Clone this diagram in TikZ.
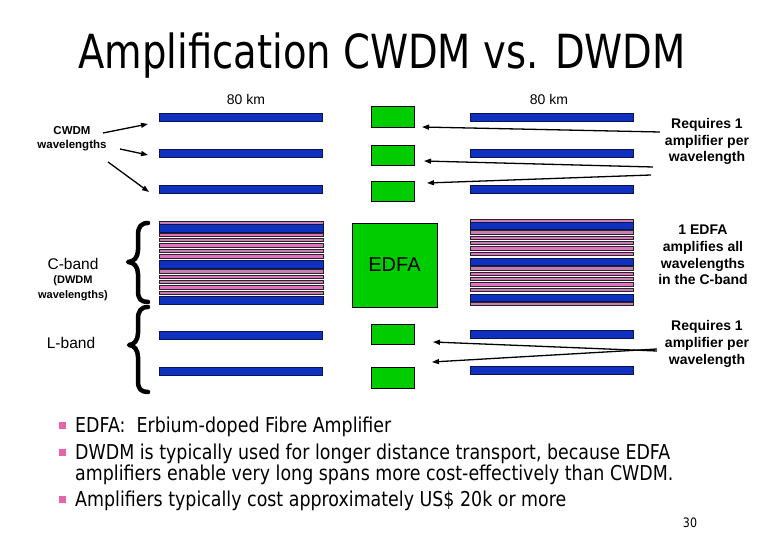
\documentclass[tikz,border=0pt]{standalone}
\usepackage{fontspec}
\setmainfont{Liberation Sans}
\newfontfamily\tahT[FakeStretch=0.82]{DejaVu Sans}
\newfontfamily\tah[FakeStretch=0.85]{DejaVu Sans}
\usetikzlibrary{arrows.meta}
\definecolor{barblue}{RGB}{16,48,192}
\definecolor{barnavy}{RGB}{10,20,80}
\definecolor{pinkA}{RGB}{228,112,196}
\definecolor{pinkB}{RGB}{200,125,180}
\definecolor{ampgreen}{RGB}{0,204,0}
\definecolor{bullpink}{RGB}{232,100,170}
\tikzset{
  bluebar/.style={fill=barblue, draw=barnavy, line width=0.8pt, inner sep=0pt, outer sep=0pt, minimum width=163, minimum height=8},
  stripe/.style={draw=black!85, line width=0.7pt},
  amp/.style={fill=ampgreen, draw=black, line width=0.7pt, inner sep=0pt, minimum width=43, minimum height=20.5},
  arr/.style={line width=1.3pt, -{Triangle[length=7pt,width=5pt]}},
  lab/.style={font=\fontsize{14}{16.8}\selectfont\bfseries, align=center, inner sep=0pt},
  km/.style={font=\fontsize{14}{16}\selectfont, inner sep=0pt},
  bul/.style={fill=bullpink, minimum size=7, inner sep=0pt},
  btxt/.style={font=\tah\fontsize{20.5}{22}\selectfont, anchor=base west, inner sep=0pt},
  brace/.style={line width=4.5pt, line cap=round, line join=round}
}
\begin{document}
\begin{tikzpicture}[x=1pt,y=-1pt]
\useasboundingbox (0,0) rectangle (780,540);
\fill[white] (0,0) rectangle (780,540);

% title
\node[font=\tahT\fontsize{47}{50}\selectfont, inner sep=0pt] (title) at (382,56) {Amplification CWDM vs. DWDM};
\node[km] (km1) at (246,99) {80 km};
\node[km] (km2) at (549,99) {80 km};

% CWDM bars
\node[bluebar] (LA1) at (241,117) {};
\node[bluebar] (LA2) at (241,153) {};
\node[bluebar] (LA3) at (241,189) {};
\node[bluebar] (RA1) at (551.5,117) {};
\node[bluebar] (RA2) at (551.5,153) {};
\node[bluebar] (RA3) at (551.5,189) {};
% L-band bars
\node[bluebar] (LL1) at (241,335) {};
\node[bluebar] (LL2) at (241,371) {};
\node[bluebar] (RL1) at (551.5,334) {};
\node[bluebar] (RL2) at (551.5,370.5) {};

% C-band stacks
\foreach \y/\c in {221.8/pinkB,233/pinkA,238.4/pinkB,243.8/pinkA,249.2/pinkB,254.6/pinkA,269.5/pinkB,274.9/pinkA,280.3/pinkB,285.7/pinkA,291.1/pinkB}
  \filldraw[stripe, fill=\c] (159,\y) rectangle (323,{\y+3.4});
\foreach \y in {224,260,296}
  \filldraw[fill=barblue, draw=barnavy, line width=0.8pt] (159,\y) rectangle (323,{\y+8});
\foreach \y/\c in {219.5/pinkB,230.5/pinkB,235.9/pinkA,241.3/pinkB,246.7/pinkA,252.1/pinkA,266.5/pinkB,271.9/pinkA,277.3/pinkB,282.7/pinkA,288.1/pinkB,302.3/pinkB}
  \filldraw[stripe, fill=\c] (470,\y) rectangle (633,{\y+3.4});
\foreach \y in {222,258,294}
  \filldraw[fill=barblue, draw=barnavy, line width=0.8pt] (470,\y) rectangle (633,{\y+7.8});

% amplifiers
\node[amp] (G1) at (392.5,117) {};
\node[amp] (G2) at (392.5,155.5) {};
\node[amp] (G3) at (392.5,191.5) {};
\node[amp, minimum width=85, minimum height=84, font=\fontsize{20}{22}\selectfont] (EDFA) at (394.5,265) {EDFA};
\node[amp] (G4) at (392.5,334.5) {};
\node[amp] (G5) at (392.5,378) {};

% left labels
\node[font=\fontsize{11.5}{14}\selectfont\bfseries, align=center, inner sep=0pt] (cwdm) at (72,139) {CWDM\\wavelengths};
\node[font=\fontsize{15.5}{17}\selectfont, inner sep=0pt] (cband) at (73,264) {C-band};
\node[font=\fontsize{11}{15}\selectfont\bfseries, align=center, inner sep=0pt] (dwdm) at (73,288.5) {(DWDM\\wavelengths)};
\node[font=\fontsize{15.5}{17}\selectfont, inner sep=0pt] (lband) at (71,343) {L-band};

% braces
\draw[brace] (148,223) .. controls (141,223) and (138,227) .. (138,235) -- (138,250)
  .. controls (138,257) and (134,262) .. (128,262)
  .. controls (134,262) and (138,267) .. (138,274) -- (138,291)
  .. controls (138,299) and (141,302) .. (148,302);
\draw[brace] (148,307) .. controls (141,307) and (138,311) .. (138,319) -- (138,333)
  .. controls (138,340) and (134,345) .. (129,345)
  .. controls (134,345) and (138,350) .. (138,357) -- (138,381)
  .. controls (138,389) and (141,392) .. (148,392);

% CWDM arrows
\coordinate (c1s) at (103,133); \coordinate (c1e) at (148,124);
\coordinate (c2s) at (120,149); \coordinate (c2e) at (148,155);
\coordinate (c3s) at (108,162); \coordinate (c3e) at (149,192);
\draw[arr] (c1s) -- (c1e);
\draw[arr] (c2s) -- (c2e);
\draw[arr] (c3s) -- (c3e);

% right labels
\node[lab] (req1) at (707,141.5) {Requires 1\\amplifier per\\wavelength};
\node[lab] (one) at (703,255) {1 EDFA\\amplifies all\\wavelengths\\in the C-band};
\node[lab] (req2) at (707,344) {Requires 1\\amplifier per\\wavelength};

% right arrows
\coordinate (a1s) at (660,132); \coordinate (a1e) at (422,127);
\coordinate (a2s) at (653,167); \coordinate (a2e) at (424,161);
\coordinate (a3s) at (651,175); \coordinate (a3e) at (427,183);
\coordinate (a4s) at (657,351); \coordinate (a4e) at (433,342);
\coordinate (a5s) at (657,349); \coordinate (a5e) at (432,362);
\draw[arr] (a1s) -- (a1e);
\draw[arr] (a2s) -- (a2e);
\draw[arr] (a3s) -- (a3e);
\draw[arr] (a4s) -- (a4e);
\draw[arr] (a5s) -- (a5e);

% bullets
\node[bul] (b1) at (62.5,425) {};
\node[bul] (b2) at (62.5,452) {};
\node[bul] (b3) at (62.5,499) {};
\node[btxt] (t1) at (75,432) {EDFA:\ \ Erbium-doped Fibre Amplifier};
\node[btxt] (t2) at (75,459) {DWDM is typically used for longer distance transport, because EDFA};
\node[btxt] (t3) at (75,480) {amplifiers enable very long spans more cost-effectively than CWDM.};
\node[btxt] (t4) at (75,506) {Amplifiers typically cost approximately US\$ 20k or more};
\node[font=\tah\fontsize{13}{15}\selectfont, inner sep=0pt] (pg) at (690,523) {30};
\end{tikzpicture}
\end{document}
